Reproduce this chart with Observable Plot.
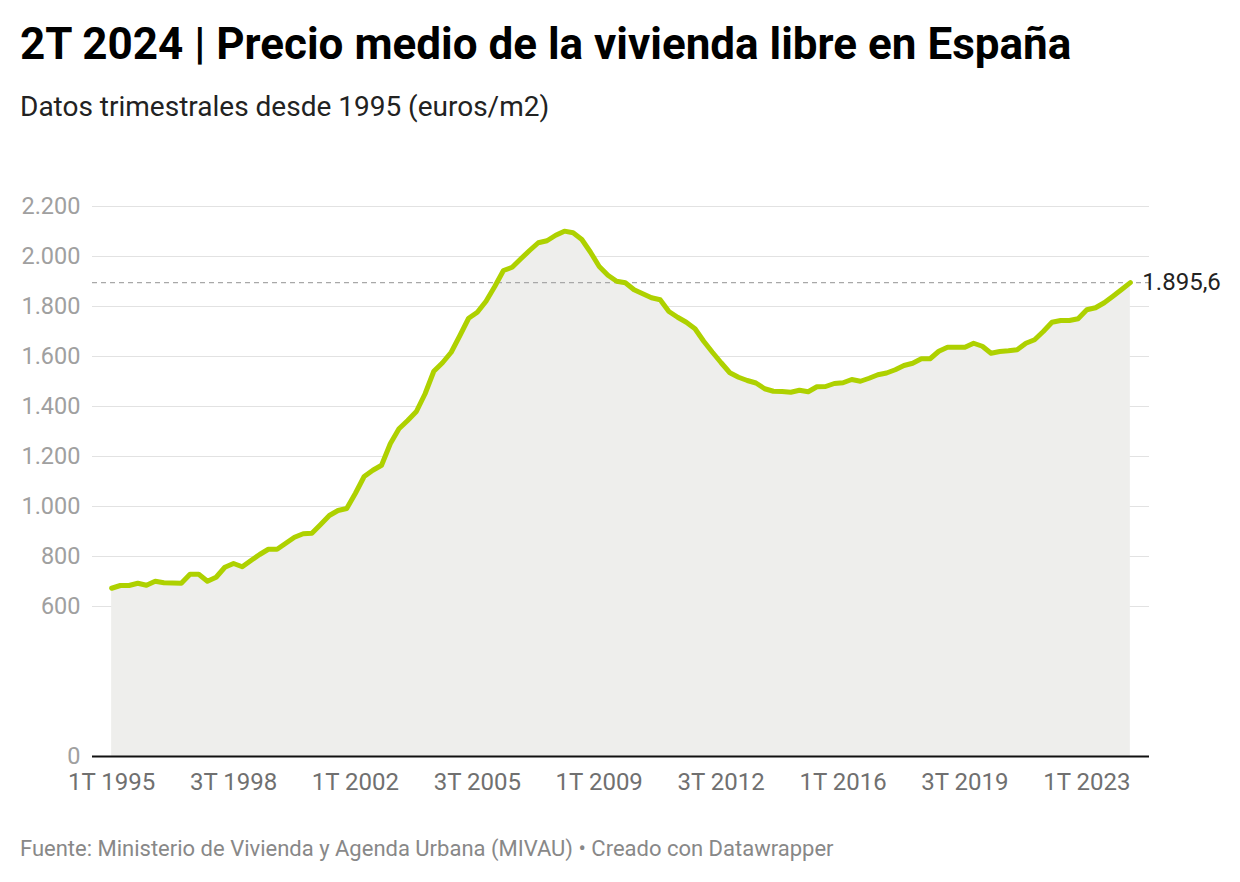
<!DOCTYPE html>
<html>
<head>
<meta charset="utf-8">
<script src="https://cdn.jsdelivr.net/npm/d3@7"></script>
<script src="https://cdn.jsdelivr.net/npm/@observablehq/plot@0.6"></script>
<style>
  html, body { margin: 0; padding: 0; background: #fff; }
  body { width: 1240px; height: 882px; position: relative; font-family: Roboto, "Noto Sans", sans-serif; overflow: hidden; }
  #title { position: absolute; left: 20px; top: 18px; font-size: 44px; font-weight: 700; color: #000; white-space: nowrap; }
  #subtitle { position: absolute; left: 20px; top: 90px; font-size: 28px; color: #222; white-space: nowrap; }
  #chart { position: absolute; left: 0; top: 150px; }
  #footer { position: absolute; left: 20px; top: 836px; font-size: 22px; color: #888; white-space: nowrap; }
</style>
</head>
<body>
<div id="title">2T 2024 | Precio medio de la vivienda libre en España</div>
<div id="subtitle">Datos trimestrales desde 1995 (euros/m2)</div>
<div id="chart"></div>
<div id="footer">Fuente: Ministerio de Vivienda y Agenda Urbana (MIVAU) • Creado con Datawrapper</div>
<script>
// Quarterly price, euros/m2, 1T 1995 .. 2T 2024
const prices = [
  673, 684, 684, 693, 685, 701, 695, 694, 693, 729,
  729, 701, 717, 757, 772, 759, 784, 808, 829, 829,
  853, 877, 891, 893, 928, 964, 984, 992, 1053, 1120,
  1145, 1165, 1251, 1311, 1344, 1380, 1451, 1541, 1575, 1617,
  1684, 1753, 1777, 1821, 1880, 1944, 1957, 1991, 2024, 2055,
  2063, 2085, 2101.4, 2095, 2068, 2017, 1960, 1925, 1901, 1895,
  1867, 1851, 1835, 1827, 1780, 1757, 1737, 1711, 1661, 1617,
  1575, 1535, 1517, 1504, 1494, 1471, 1461, 1460, 1457, 1465,
  1459, 1479, 1480, 1492, 1495, 1508, 1501, 1513, 1527, 1534,
  1547, 1564, 1573, 1591, 1591, 1621, 1637, 1637, 1637, 1653,
  1641, 1613, 1620, 1623, 1627, 1653, 1667, 1700, 1737, 1744,
  1744, 1751, 1787, 1795, 1815, 1841, 1868, 1895.6
];
const startYear = 1995;
const quarters = prices.map((_, i) => `${(i % 4) + 1}T ${startYear + Math.floor(i / 4)}`);
const xTickLabels = ["1T 1995", "3T 1998", "1T 2002", "3T 2005", "1T 2009", "3T 2012", "1T 2016", "3T 2019", "1T 2023"];
const yTicks = [0, 600, 800, 1000, 1200, 1400, 1600, 1800, 2000, 2200];
const lastLabel = "1.895,6";

const data = prices.map((v, i) => ({ i, q: quarters[i], v }));
const xTicks = xTickLabels.map(l => quarters.indexOf(l));
const last = data[data.length - 1];

const es = d3.formatLocale({ decimal: ",", thousands: ".", grouping: [3], currency: ["", "€"] });
const fmt = es.format(",d");

const W = 1240, H = 690;
const chart = Plot.plot({
  width: W,
  height: H,
  marginTop: 56,
  marginBottom: H - 606,
  marginLeft: 92,
  marginRight: W - 1149,
  style: { fontFamily: "Roboto, sans-serif", background: "transparent", overflow: "visible" },
  x: { domain: [-2.2, prices.length - 1 + 2.2], axis: null },
  y: { domain: [0, 2200], axis: null },
  marks: [
    Plot.ruleY(yTicks.filter(d => d > 0), { stroke: "#e2e2e2", strokeWidth: 1 }),
    Plot.areaY(data, { x: "i", y: "v", fill: "#eeeeec" }),
    Plot.ruleY([last.v], { stroke: "#a8a8a8", strokeWidth: 1.3, strokeDasharray: "5,4" }),
    Plot.lineY(data, { x: "i", y: "v", stroke: "#aed100", strokeWidth: 5, strokeLinejoin: "round", strokeLinecap: "round" }),
    Plot.ruleY([0], { stroke: "#111", strokeWidth: 2 }),
    Plot.axisY(yTicks, { label: null, tickSize: 0, tickPadding: 12, fontSize: 23.5, color: "#a0a0a0", tickFormat: fmt }),
    Plot.axisX(xTicks, { label: null, tickSize: 0, tickPadding: 16, fontSize: 24, color: "#707070", tickFormat: i => quarters[i] }),
    Plot.text([last], { x: "i", y: "v", text: () => lastLabel, dx: 12, textAnchor: "start", fontSize: 24, fill: "#222" })
  ]
});
document.getElementById("chart").appendChild(chart);
</script>
</body>
</html>
